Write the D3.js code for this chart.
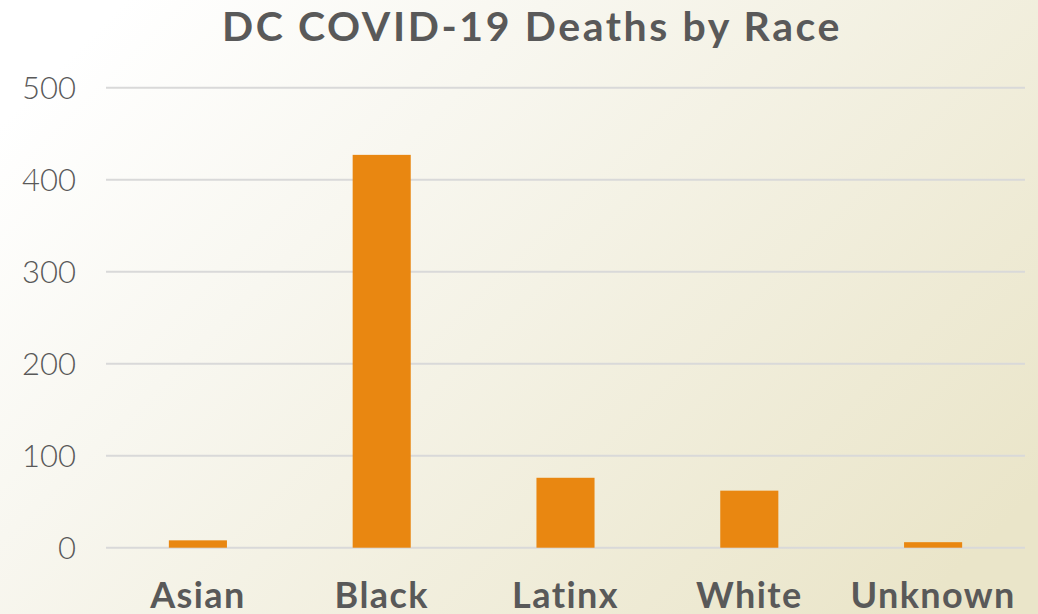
<!DOCTYPE html>
<html><head><meta charset="utf-8">
<script src="https://cdn.jsdelivr.net/npm/d3@7"></script>
<style>html,body{margin:0;padding:0;overflow:hidden;}</style>
</head><body>
<script>
const categories = ["Asian", "Black", "Latinx", "White", "Unknown"];
const deaths = [8, 427, 76, 62, 6];
const yTicks = [0, 100, 200, 300, 400, 500];
const title = "DC COVID-19 Deaths by Race";

const W = 1038, H = 614;
const svg = d3.select("body").append("svg").attr("width", W).attr("height", H);
const defs = svg.append("defs");
const g = defs.append("linearGradient").attr("id","bg").attr("x1","0").attr("y1","0.2").attr("x2","1").attr("y2","0.8");
g.append("stop").attr("offset","0").attr("stop-color","#ffffff");
g.append("stop").attr("offset","0.3").attr("stop-color","#f8f7f0");
g.append("stop").attr("offset","1").attr("stop-color","#eae5c9");
svg.append("rect").attr("width",W).attr("height",H).attr("fill","url(#bg)");

const x = d3.scaleBand().domain(categories).range([106, 1025]).paddingInner(0.684).paddingOuter(0.342);
const y = d3.scaleLinear().domain([0, 500]).range([547.7, 87.7]);

svg.append("g").selectAll("line").data(yTicks).join("line")
  .attr("x1",106).attr("x2",1025)
  .attr("y1",d=>y(d)).attr("y2",d=>y(d))
  .attr("stroke","#d9d9d9").attr("stroke-width",2);

svg.append("g").selectAll("text").data(yTicks).join("text")
  .attr("x",76).attr("y",d=>y(d)+11)
  .attr("text-anchor","end")
  .attr("font-family","Lato, sans-serif").attr("font-weight",300)
  .attr("font-size",31).attr("fill","#595959")
  .text(d=>d);

svg.append("g").selectAll("rect").data(deaths).join("rect")
  .attr("x",(d,i)=>x(categories[i]))
  .attr("width",x.bandwidth())
  .attr("y",d=>y(d))
  .attr("height",d=>y(0)-y(d))
  .attr("fill","#e98711");

svg.append("g").selectAll("text").data(categories).join("text")
  .attr("x",d=>x(d)+x.bandwidth()/2).attr("y",608)
  .attr("text-anchor","middle")
  .attr("font-family","Lato, sans-serif").attr("font-weight",700)
  .attr("font-size",36).attr("letter-spacing","1.4px").attr("fill","#595959")
  .text(d=>d);

svg.append("text").attr("x",532).attr("y",41)
  .attr("text-anchor","middle")
  .attr("font-family","Lato, sans-serif").attr("font-weight",700)
  .attr("font-size",41).attr("letter-spacing","2.6px").attr("fill","#595959")
  .text(title);
</script>
</body></html>
